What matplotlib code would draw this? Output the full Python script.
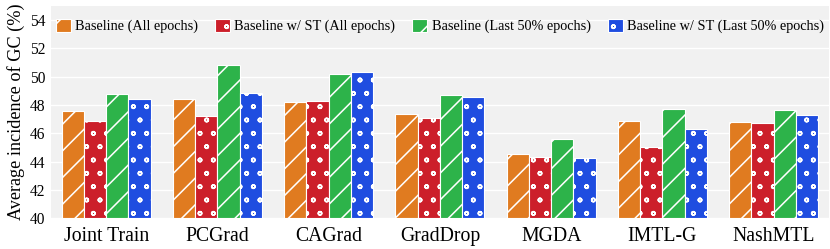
import numpy as np
import matplotlib
matplotlib.use("Agg")
import matplotlib.pyplot as plt
import matplotlib.hatch

plt.rcParams['font.family'] = ['Liberation Serif', 'DejaVu Serif']
plt.rcParams['hatch.linewidth'] = 0.7
# petits cercles plus fins que ceux par défaut
matplotlib.hatch.SmallCircles.size = 0.13

# --- données ---
methods = ["Joint Train", "PCGrad", "CAGrad", "GradDrop", "MGDA", "IMTL-G", "NashMTL"]
series_names = ["Baseline (All epochs)", "Baseline w/ ST (All epochs)",
                "Baseline (Last 50% epochs)", "Baseline w/ ST (Last 50% epochs)"]
base_all = [47.55, 48.45, 48.2, 47.35, 44.5, 46.85, 46.8]
st_all = [46.9, 47.2, 48.3, 47.1, 44.3, 45.0, 46.75]
base_last = [48.75, 50.8, 50.2, 48.7, 45.6, 47.75, 47.65]
st_last = [48.45, 48.85, 50.35, 48.55, 44.25, 46.3, 47.3]

colors = ["#e07b20", "#cc1f2a", "#2db34a", "#1f4de0"]
hatches = ["//", "oo", "//", "oo"]

# dpi 160 pour avoir des hachures plus espacées
DPI = 160
fig = plt.figure(figsize=(830 / DPI, 249 / DPI), dpi=DPI)
ax = fig.add_axes([0.061, 0.124, 0.938, 0.852])
ax.set_facecolor("#f1f1f1")

x = np.arange(len(methods))
w = 0.2
all_series = [base_all, st_all, base_last, st_last]
for i, (vals, name) in enumerate(zip(all_series, series_names)):
    ax.bar(x + (i - 1.5) * w, np.array(vals) - 40, w, bottom=40,
           color=colors[i], edgecolor="white", linewidth=0.5,
           hatch=hatches[i], label=name, zorder=3)

ax.set_xlim(-0.5, 6.5)
ax.set_ylim(40, 55)
ax.set_yticks(np.arange(40, 55, 2))
ax.set_xticks(x)
ax.set_xticklabels(methods, fontsize=8.9)
ax.tick_params(axis='y', labelsize=7.0, length=0, pad=2.5)
ax.tick_params(axis='x', length=0, pad=4)
ax.grid(axis='y', color="white", linewidth=0.6, zorder=0)
ax.set_axisbelow(True)
for s in ax.spines.values():
    s.set_visible(False)
ax.set_ylabel("Average incidence of GC (%)", fontsize=8.2, labelpad=2)

ax.legend(loc="upper center", ncol=4, frameon=False, fontsize=6.4,
          handlelength=1.05, handleheight=1.0, columnspacing=1.2,
          handletextpad=0.3, bbox_to_anchor=(0.5, 1.0))

fig.savefig("out.png", dpi=DPI)
